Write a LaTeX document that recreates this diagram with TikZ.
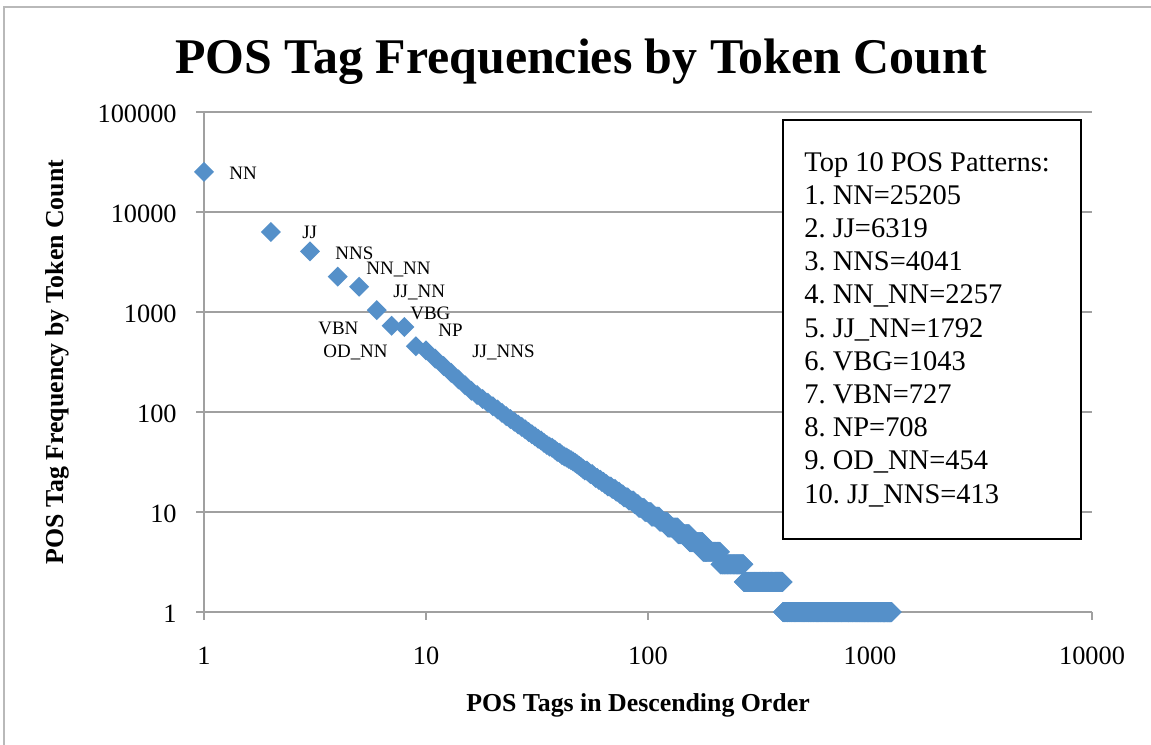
\documentclass[tikz,border=0pt]{standalone}
\usepackage{fontspec}
\setmainfont{Liberation Serif}
\definecolor{markblue}{HTML}{5590C9}
\definecolor{axisgray}{RGB}{160,160,160}
\definecolor{framegray}{RGB}{185,185,185}
\frenchspacing

\begin{document}
\begin{tikzpicture}[x=0.02cm, y=-0.02cm,
    grid/.style={draw=axisgray, line width=0.85pt},
    ticklab/.style={font=\fontsize{15}{18}\selectfont, inner sep=0pt},
    taglab/.style={font=\fontsize{10.8}{13}\selectfont, anchor=west, inner sep=0pt},
    leglab/.style={font=\fontsize{16.2}{19}\selectfont, anchor=base west, inner sep=0pt},
    axlab/.style={font=\bfseries\fontsize{14.7}{17}\selectfont, anchor=base, inner sep=0pt},
    posmark/.pic={\fill[markblue] (-10,0) -- (0,-10) -- (10,0) -- (0,10) -- cycle;}]
    \useasboundingbox (0,0) rectangle (1151,744);
    \clip (0,0) rectangle (1151,744);
    \draw[framegray, line width=1.1pt] (4,7) rectangle (1170,760);
    \node[anchor=base, inner sep=0pt, font=\bfseries\fontsize{28.4}{32}\selectfont] (title) at (581,73)
        {POS Tag Frequencies by Token Count};
    % log axes: one decade is 222 across and 100 up
    \foreach \e/\v in {0/1, 1/10, 2/100, 3/1000, 4/10000, 5/100000} {
        \pgfmathsetmacro\gy{612-100*\e}
        \draw[grid] (196,\gy) -- (1092,\gy);
        \node[ticklab, anchor=east] (ytick\e) at (177,\gy+2) {\v};
    }
    \foreach \e/\v in {0/1, 1/10, 2/100, 3/1000, 4/10000} {
        \pgfmathsetmacro\gx{204+222*\e}
        \draw[grid] (\gx,612) -- (\gx,620);
        \node[ticklab, anchor=base] (xtick\e) at (\gx,664) {\v};
    }
    \draw[grid] (204,112) -- (204,612);
    \node[axlab, rotate=90] (ylab) at (63,362) {POS Tag Frequency by Token Count};
    \node[axlab] (xlab) at (638,711) {POS Tags in Descending Order};
    % top ten, counts in thousands
    \foreach \r/\f in {1/25.205, 2/6.319, 3/4.041, 4/2.257, 5/1.792,
                       6/1.043, 7/0.727, 8/0.708, 9/0.454, 10/0.413}
        \pic at ({204+222*log10(\r)},{312-100*log10(\f)}) {posmark};
    % the long tail, piecewise in log-log
    \foreach \r in {11,...,1250} {
        \pgfmathsetmacro\lr{log10(\r)}
        \pgfmathsetmacro\lf{\lr<1.2 ? 2.616-1.98*(\lr-1) : (\lr<1.5 ? 2.22-1.6*(\lr-1.2) :
            (\lr<2 ? 1.74-1.48*(\lr-1.5) : (\lr<2.43 ? 1.0-1.4*(\lr-2) : 0.398-1.254*(\lr-2.43))))}
        \pgfmathsetmacro\fy{612-100*log10(max(1,round(10^\lf)))}
        \pic at ({204+222*\lr},\fy) {posmark};
    }
    \node[taglab] (tNN) at (229,173) {NN};
    \node[taglab] (tJJ) at (302,232) {JJ};
    \node[taglab] (tNNS) at (335,253) {NNS};
    \node[taglab] (tNNNN) at (366,270) {NN\_NN};
    \node[taglab] (tJJNN) at (393,293) {JJ\_NN};
    \node[taglab] (tVBG) at (410,313) {VBG};
    \node[taglab] (tVBN) at (318,328) {VBN};
    \node[taglab] (tNP) at (438,330) {NP};
    \node[taglab] (tODNN) at (323,352) {OD\_NN};
    \node[taglab] (tJJNNS) at (472,352) {JJ\_NNS};
    % legend box
    \draw[line width=1.1pt, fill=white] (783,120) rectangle (1081,539);
    \foreach \t [count=\i from 0] in {Top 10 POS Patterns:, 1. NN=25205, 2. JJ=6319, 3. NNS=4041,
            4. NN\_NN=2257, 5. JJ\_NN=1792, 6. VBG=1043, 7. VBN=727, 8. NP=708,
            9. OD\_NN=454, 10. JJ\_NNS=413}
        \node[leglab] (leg\i) at (804,171+33.2*\i) {\t};
\end{tikzpicture}
\end{document}
